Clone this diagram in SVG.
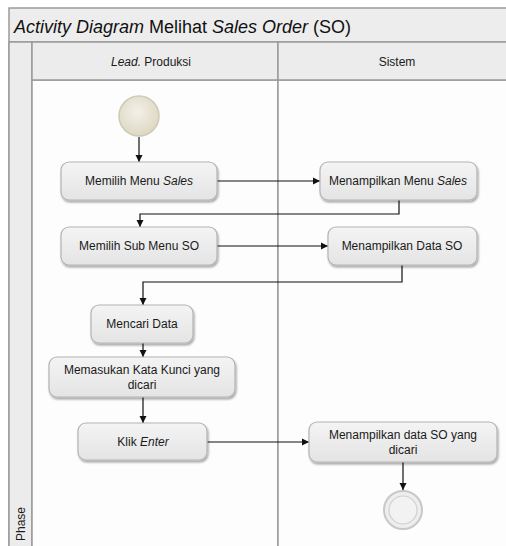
<svg xmlns="http://www.w3.org/2000/svg" width="506" height="546" viewBox="0 0 506 546">
  <defs>
    <linearGradient id="nodeFill" x1="0" y1="0" x2="0" y2="1">
      <stop offset="0" stop-color="#f4f4f4"/>
      <stop offset="1" stop-color="#e4e4e4"/>
    </linearGradient>
    <radialGradient id="startFill" cx="0.45" cy="0.4" r="0.6">
      <stop offset="0" stop-color="#f3f1e8"/>
      <stop offset="1" stop-color="#ddd8c4"/>
    </radialGradient>
    <filter id="shadow" x="-10%" y="-20%" width="125%" height="150%">
      <feGaussianBlur in="SourceAlpha" stdDeviation="1.2"/>
      <feOffset dx="1" dy="1.5" result="b"/>
      <feComponentTransfer><feFuncA type="linear" slope="0.35"/></feComponentTransfer>
      <feMerge><feMergeNode/><feMergeNode in="SourceGraphic"/></feMerge>
    </filter>
    <marker id="arrow" markerWidth="8" markerHeight="8" refX="7" refY="4" orient="auto" markerUnits="userSpaceOnUse">
      <path d="M0,0.5 L7,4 L0,7.5 Z" fill="#111"/>
    </marker>
  </defs>
  <style>
    .frame { fill: #ededed; stroke: #9a9a9a; stroke-width: 1.5; }
    .lane { fill: #fdfdfd; stroke: #9a9a9a; stroke-width: 1.5; }
    .node rect { fill: url(#nodeFill); stroke: #b4b4b4; stroke-width: 1.2; filter: url(#shadow); }
    .label { font-family: "Liberation Sans", Arial, sans-serif; font-size: 12px; fill: #1a1a1a; text-anchor: middle; }
    .head { font-family: "Liberation Sans", Arial, sans-serif; font-size: 12px; fill: #1a1a1a; text-anchor: middle; }
    .title { font-family: "Liberation Sans", Arial, sans-serif; font-size: 18px; fill: #111; }
    .conn { fill: none; stroke: #111; stroke-width: 1.2; marker-end: url(#arrow); }
  </style>

  <!-- pool frame and title bar -->
  <rect x="0" y="0" width="506" height="546" fill="#ffffff"/>
  <rect class="frame" x="9" y="8" width="505" height="545"/>
  <line x1="9" y1="42" x2="506" y2="42" stroke="#9a9a9a" stroke-width="1.5"/>
  <text class="title" x="14" y="33"><tspan font-style="italic">Activity Diagram</tspan> Melihat <tspan font-style="italic">Sales Order</tspan> (SO)</text>

  <!-- phase strip -->
  <rect x="9" y="42" width="23" height="510" fill="#ececec" stroke="#9a9a9a" stroke-width="1.5"/>
  <text class="head" transform="translate(25,524) rotate(-90)">Phase</text>

  <!-- swimlanes -->
  <g id="lane-lead">
    <rect class="lane" x="32" y="80" width="246" height="470"/>
    <rect x="32" y="42" width="246" height="38" fill="#ececec" stroke="#9a9a9a" stroke-width="1.5"/>
    <text class="head" x="151" y="66"><tspan font-style="italic">Lead.</tspan> Produksi</text>
  </g>
  <g id="lane-sistem">
    <rect class="lane" x="278" y="80" width="240" height="470"/>
    <rect x="278" y="42" width="240" height="38" fill="#ececec" stroke="#9a9a9a" stroke-width="1.5"/>
    <text class="head" x="397" y="66">Sistem</text>
  </g>

  <!-- connectors -->
  <g id="connectors">
    <path class="conn" d="M139,137 V162"/>
    <path class="conn" d="M217,181 H320"/>
    <path class="conn" d="M399,200 V214 H140 V227"/>
    <path class="conn" d="M217,246 H328"/>
    <path class="conn" d="M402,265 V282 H143 V305"/>
    <path class="conn" d="M143,343 V357"/>
    <path class="conn" d="M143,397 V423"/>
    <path class="conn" d="M207,442 H309"/>
    <path class="conn" d="M403,462 V490"/>
  </g>

  <!-- start -->
  <g id="start">
    <circle cx="139" cy="116" r="20" fill="url(#startFill)" stroke="#cfcab6" stroke-width="1.5"/>
  </g>

  <g id="n1" class="node">
    <rect x="61" y="162" width="156" height="38" rx="8"/>
    <text class="label" x="139" y="185">Memilih Menu <tspan font-style="italic">Sales</tspan></text>
  </g>
  <g id="n2" class="node">
    <rect x="320" y="162" width="157" height="38" rx="8"/>
    <text class="label" x="398" y="185">Menampilkan Menu <tspan font-style="italic">Sales</tspan></text>
  </g>
  <g id="n3" class="node">
    <rect x="61" y="227" width="156" height="38" rx="8"/>
    <text class="label" x="139" y="250">Memilih Sub Menu SO</text>
  </g>
  <g id="n4" class="node">
    <rect x="328" y="227" width="149" height="38" rx="8"/>
    <text class="label" x="402" y="250">Menampilkan Data SO</text>
  </g>
  <g id="n5" class="node">
    <rect x="91" y="305" width="102" height="38" rx="8"/>
    <text class="label" x="142" y="328">Mencari Data</text>
  </g>
  <g id="n6" class="node">
    <rect x="49" y="357" width="186" height="40" rx="8"/>
    <text class="label" x="142" y="374">Memasukan Kata Kunci yang</text>
    <text class="label" x="142" y="389">dicari</text>
  </g>
  <g id="n7" class="node">
    <rect x="78" y="423" width="129" height="37" rx="8"/>
    <text class="label" x="143" y="446">Klik <tspan font-style="italic">Enter</tspan></text>
  </g>
  <g id="n8" class="node">
    <rect x="309" y="422" width="188" height="40" rx="8"/>
    <text class="label" x="403" y="439">Menampilkan data SO yang</text>
    <text class="label" x="403" y="454">dicari</text>
  </g>

  <!-- end -->
  <g id="end">
    <circle cx="403" cy="510" r="19" fill="#eeeeee" stroke="#c8c8c8" stroke-width="2"/>
    <circle cx="403" cy="510" r="14" fill="#f2f2f2" stroke="#d0d0d0" stroke-width="1.2"/>
  </g>
</svg>
